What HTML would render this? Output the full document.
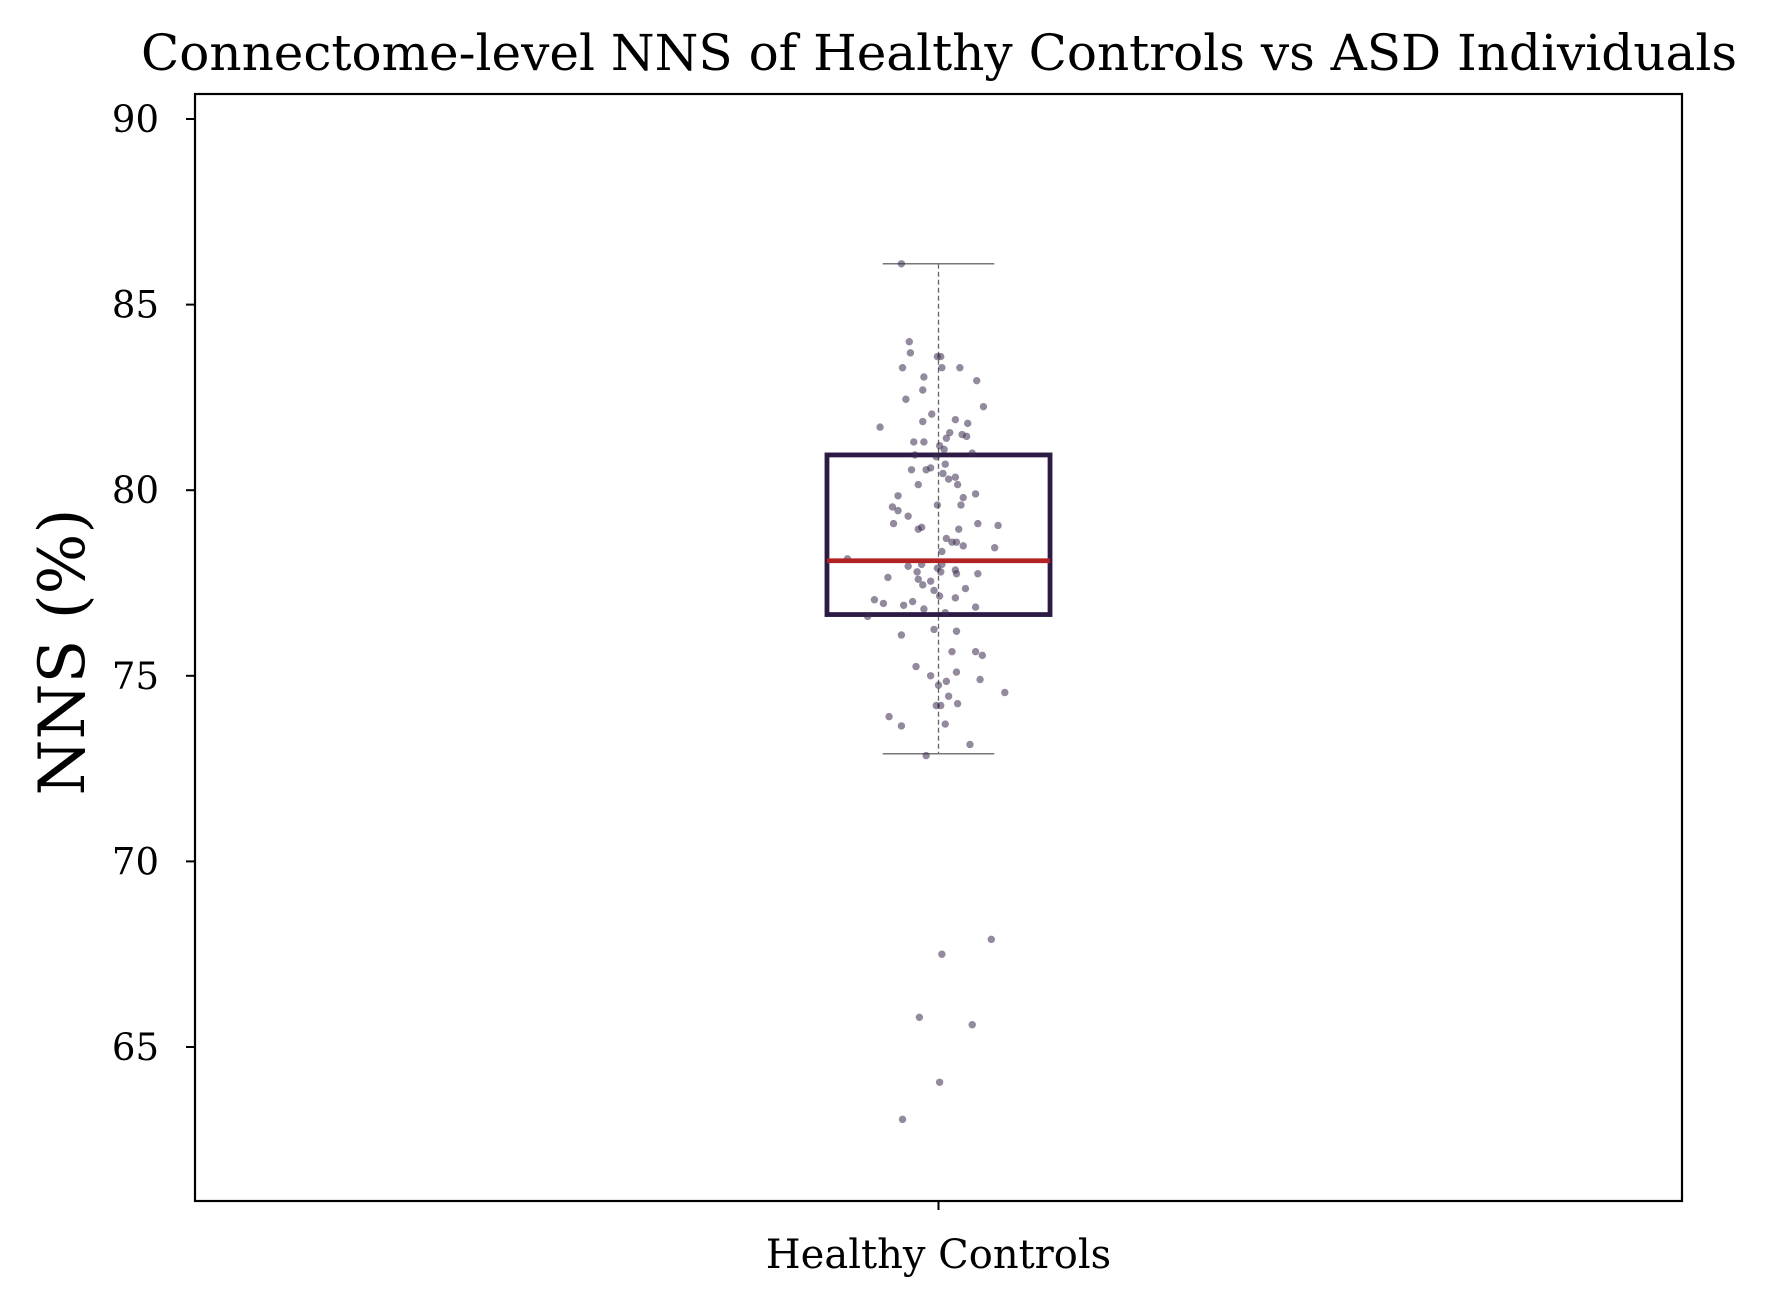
<!DOCTYPE html>
<html><head><meta charset="utf-8"><style>
html,body{margin:0;padding:0;background:#fff}
svg{display:block}
text{font-family:"DejaVu Serif","Liberation Serif",serif;fill:#000}
</style></head><body>
<svg id="chart" width="1765" height="1303" viewBox="0 0 1765 1303" xmlns="http://www.w3.org/2000/svg">
<text x="939" y="70" font-size="50" text-anchor="middle" textLength="1596" lengthAdjust="spacingAndGlyphs">Connectome-level NNS of Healthy Controls vs ASD Individuals</text>
<text transform="translate(84,652) rotate(-90)" font-size="64" text-anchor="middle">NNS (%)</text>
<g id="plot"></g>
<rect x="195" y="94" width="1487" height="1107" fill="none" stroke="#000" stroke-width="2.2"/>
</svg>
<script>
const categories = ["Healthy Controls"];
const yTicks = [65, 70, 75, 80, 85, 90];
const boxQ1 = 76.65, boxMedian = 78.1, boxQ3 = 80.95, whiskerLow = 72.9, whiskerHigh = 86.1;
const values = [86.1,84.0,83.7,83.3,83.6,83.6,83.3,83.3,82.95,83.05,82.7,82.45,82.25,82.05,81.9,81.85,81.8,81.7,81.55,81.5,81.45,81.4,81.3,81.3,81.2,81.1,81.0,80.95,80.9,80.6,80.55,80.55,80.7,80.45,80.35,80.3,80.15,80.15,79.85,79.9,79.8,79.6,79.6,79.55,79.45,79.3,79.05,79.1,79.1,79.0,78.95,78.95,78.7,78.6,78.6,78.45,78.5,78.35,78.15,78.0,78.0,77.85,77.95,77.9,77.8,77.75,77.8,77.75,77.65,77.6,77.55,77.45,77.35,77.3,77.1,77.15,77.05,76.95,77.0,76.9,76.85,76.8,76.7,76.6,76.25,76.2,76.1,75.65,75.65,75.55,75.25,75.1,75.0,74.9,74.85,74.75,74.55,74.45,74.25,74.2,74.2,73.9,73.65,73.7,73.15,72.85,67.9,67.5,65.8,65.6,64.05,63.05];
const jitterRaw = [-33,-26,-25,-32,-1,2,19,3,34,-13,-14,-29,40,-6,15,-14,26,-52,10,21,25,7,-22,-13,1,5,30,-21,-2,-7,-11,-24,6,4,15,9,-18,17,-36,33,22,-1,20,-41,-36,-27,53,35,-40,-15,-18,18,7,12,16,50,22,3,-81,3,-15,15,-27,-1,2,35,-19,16,-45,-18,-7,-14,24,-4,15,1,-57,-49,-23,-31,33,-13,6,-63,-4,16,-33,33,12,39,-20,16,-7,37,7,0,59,9,17,-2,2,-44,-33,6,28,-11,47,3,-17,30,1,-32];
const jitter = jitterRaw.map(d => d / 1323);
const boxWidth = 0.15, capWidth = 0.075;

const L=195, R=1682, T=94, B=1201;
const y = v => 119 + (90 - v) * 37.12;
const x = u => L + (u + 0.5) * (R - L);
const NS="http://www.w3.org/2000/svg";
const g=document.getElementById('plot');
function mk(tag, attrs){const e=document.createElementNS(NS,tag);for(const k in attrs)e.setAttribute(k,attrs[k]);g.appendChild(e);return e;}

yTicks.forEach(t=>{
  const l=mk('line',{x1:L-9,x2:L,y1:y(t),y2:y(t),stroke:'#000','stroke-width':2});
  
  
  const tx=mk('text',{x:L-36,y:y(t)+13,'font-size':37,'text-anchor':'end'});
  tx.textContent=t;
  
  
});
categories.forEach((c,i)=>{
  const cx=x(0);
  const l=mk('line',{x1:cx,x2:cx,y1:B,y2:B+9,stroke:'#000','stroke-width':2});
  
  
  const tx=mk('text',{x:cx,y:1268,'font-size':40,'text-anchor':'middle'});
  tx.textContent=c;
  
  
});
const cx=x(0), bh=boxWidth/2*(R-L), ch=capWidth/2*(R-L);
const w=mk('line',{x1:cx,x2:cx,y1:y(whiskerHigh),y2:y(whiskerLow),stroke:'#666','stroke-width':1.3,'stroke-dasharray':'5,3'});


[whiskerHigh,whiskerLow].forEach(v=>{
  const c=mk('line',{x1:cx-ch,x2:cx+ch,y1:y(v),y2:y(v),stroke:'#777','stroke-width':1.5});
  
  
});
const box=mk('rect',{x:cx-bh,y:y(boxQ3),width:bh*2,height:y(boxQ1)-y(boxQ3),fill:'none',stroke:'#2d1b45','stroke-width':4.8});


values.forEach((v,i)=>{
  const p=mk('circle',{cx:x(jitter[i]),cy:y(v),r:3.7,fill:'#3b2a4f','fill-opacity':0.55});
  
  
});
const m=mk('line',{x1:cx-bh,x2:cx+bh,y1:y(boxMedian),y2:y(boxMedian),stroke:'#b22222','stroke-width':4.8});


</script>
</body></html>
